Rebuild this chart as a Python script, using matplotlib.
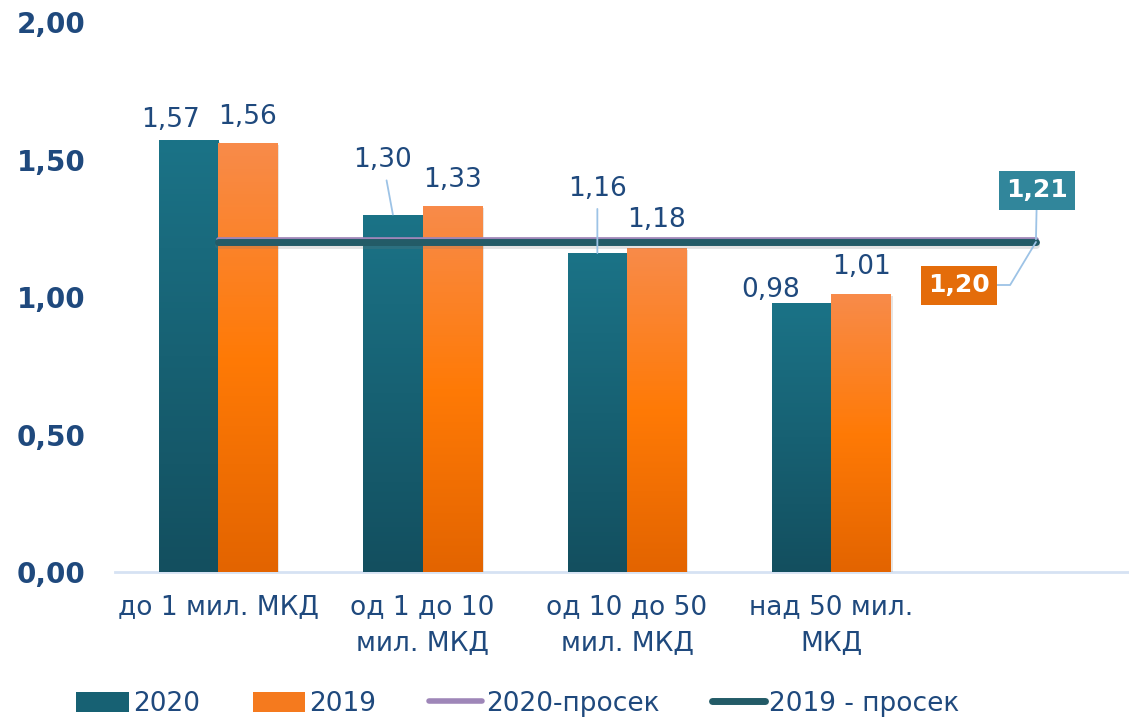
import matplotlib.pyplot as plt
import numpy as np
from matplotlib.colors import LinearSegmentedColormap
from matplotlib.patches import Patch
from matplotlib.lines import Line2D
from matplotlib import patheffects as pe

# data
categories = ['до 1 мил. МКД', 'од 1 до 10\nмил. МКД', 'од 10 до 50\nмил. МКД', 'над 50 мил.\nМКД', '']
v2020 = [1.57, 1.30, 1.16, 0.98]
v2019 = [1.56, 1.33, 1.18, 1.01]
avg2020 = [1.21, 1.21, 1.21, 1.21, 1.21]
avg2019 = [1.20, 1.20, 1.20, 1.20, 1.20]
yticks = [0.0, 0.5, 1.0, 1.5, 2.0]
ytick_labels = ['0,00', '0,50', '1,00', '1,50', '2,00']
series_names = ['2020', '2019', '2020-просек', '2019 - просек']

TXT = '#1F497D'
FONT = ['DejaVu Sans']
LEAD = '#9DC3E6'

teal_cm = LinearSegmentedColormap.from_list('teal', ['#134F5F', '#1B7387'])
orange_cm = LinearSegmentedColormap.from_list('orange', ['#E36400', '#FF7A06', '#F88B4A'])

fig = plt.figure(figsize=(11.29, 7.2), dpi=100)
ax = fig.add_axes([115/1129, 148/720, 1 - 115/1129, 550/720])

x = np.arange(len(categories))
w = 0.29


def grad_bars(xs, vals, cmap):
    bars = ax.bar(xs, vals, w, color=cmap(0.5), zorder=2,
                  path_effects=[pe.SimplePatchShadow(offset=(1.5, -1.5), alpha=0.12), pe.Normal()])
    grad = np.linspace(0, 1, 256).reshape(-1, 1)
    for b in bars:
        im = ax.imshow(grad, cmap=cmap, origin='lower', aspect='auto', zorder=2.1,
                       extent=[b.get_x(), b.get_x() + b.get_width(), 0, b.get_height()])
        im.set_clip_path(b)
    return bars


b20 = grad_bars(x[:4] - w/2, v2020, teal_cm)
b19 = grad_bars(x[:4] + w/2, v2019, orange_cm)

ax.plot(x, avg2020, color='#9E86B8', lw=3.4, solid_capstyle='round', zorder=3)
ax.plot(x, avg2019, color='#235B67', lw=5, solid_capstyle='round', zorder=3.1,
        path_effects=[pe.SimpleLineShadow(offset=(0, -2.5), shadow_color='#777777', alpha=0.2), pe.Normal()])

# value labels (offset in pixels from the bar top centre)
off20 = [(-18, 20), (-10, 54), (0, 64), (-31, 13)]
off19 = [(0, 26), (0, 26), (0, 28), (0, 27)]
lead20 = [False, True, True, False]
for b, v, o, ld in zip(b20, v2020, off20, lead20):
    ax.annotate(f'{v:.2f}'.replace('.', ','), (b.get_x() + w/2, v), xytext=o,
                textcoords='offset pixels', ha='center', va='center', fontsize=19,
                family=FONT, color=TXT, zorder=5,
                arrowprops=dict(arrowstyle='-', color=LEAD, lw=1.3, shrinkA=3, shrinkB=0) if ld else None)
for b, v, o in zip(b19, v2019, off19):
    ax.annotate(f'{v:.2f}'.replace('.', ','), (b.get_x() + w/2, v), xytext=o,
                textcoords='offset pixels', ha='center', va='center', fontsize=19,
                family=FONT, color=TXT, zorder=5)

# average boxes
ax.annotate(f'{avg2020[-1]:.2f}'.replace('.', ','), (x[-1], avg2020[-1]), xytext=(1, 49),
            textcoords='offset pixels', ha='center', va='center', fontsize=18,
            fontweight='bold', color='white', zorder=6,
            bbox=dict(boxstyle='square,pad=0.3', fc='#31869B', ec='none'),
            arrowprops=dict(arrowstyle='-', color=LEAD, lw=1.3, shrinkA=0, shrinkB=0))
ax.annotate(f'{avg2019[-1]:.2f}'.replace('.', ','), (x[-1], avg2019[-1]), xytext=(-77, -43),
            textcoords='offset pixels', ha='center', va='center', fontsize=18,
            fontweight='bold', color='white', zorder=6,
            bbox=dict(boxstyle='square,pad=0.3', fc='#E46C0A', ec='none'),
            arrowprops=dict(arrowstyle='-', color=LEAD, lw=1.3, shrinkA=0, shrinkB=0,
                            relpos=(1, 0.5), connectionstyle='angle,angleA=0,angleB=59,rad=0'))

ax.set_xlim(-0.504, 4.455)
ax.set_ylim(0, 2)
ax.set_yticks(yticks)
ax.set_yticklabels(ytick_labels, fontsize=20, fontweight='bold', color=TXT)
ax.set_xticks(x)
ax.set_xticklabels(categories, fontsize=19, family=FONT, color=TXT, linespacing=1.5)
ax.tick_params(axis='y', length=0, pad=21.5)
ax.tick_params(axis='x', length=0, pad=16)
for s in ['top', 'right', 'left']:
    ax.spines[s].set_visible(False)
ax.spines['bottom'].set_color('#D6E2F3')
ax.spines['bottom'].set_linewidth(2)
ax.spines['bottom'].set_zorder(1)

handles = [Patch(fc='#176173'), Patch(fc='#F57A1E'),
           Line2D([], [], color='#9E86B8', lw=4, solid_capstyle='round'),
           Line2D([], [], color='#235B67', lw=5, solid_capstyle='round')]
fig.legend(handles, series_names, loc='center left', bbox_to_anchor=(76/1129, 1 - 704/720),
           ncol=4, frameon=False, prop={'family': FONT, 'size': 19}, labelcolor=TXT,
           borderpad=0, borderaxespad=0,
           handlelength=2.0, handleheight=0.8, handletextpad=0.15, columnspacing=2.0)

fig.savefig('out.png', dpi=100)
